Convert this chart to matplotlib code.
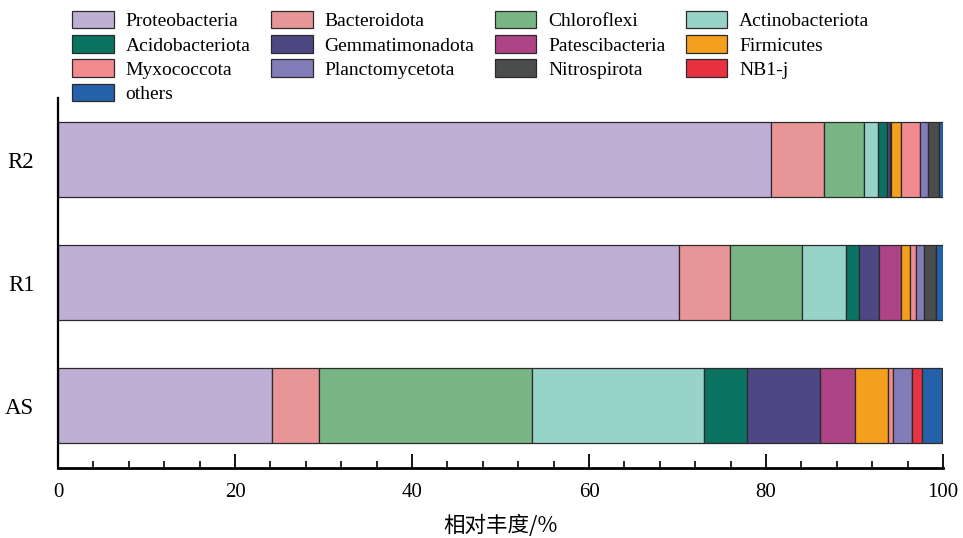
import matplotlib
matplotlib.use("Agg")
import matplotlib.pyplot as plt
from matplotlib.patches import Patch
from matplotlib.ticker import MultipleLocator

samples = ["AS", "R1", "R2"]
phyla = ["Proteobacteria", "Bacteroidota", "Chloroflexi", "Actinobacteriota",
         "Acidobacteriota", "Gemmatimonadota", "Patescibacteria", "Firmicutes",
         "Myxococcota", "Planctomycetota", "Nitrospirota", "NB1-j", "others"]
colors = ["#C0AFD4", "#E79597", "#79B685", "#98D3CA",
          "#0A7261", "#4D4884", "#AE4485", "#F49F1E",
          "#F28B8F", "#827CB8", "#4B4D4D", "#E83240", "#2561AA"]

# relative abundance (%) per phylum, order: AS, R1, R2
abund = {
    "Proteobacteria":   [24.2, 70.2, 80.6],
    "Bacteroidota":     [5.3, 5.7, 6.0],
    "Chloroflexi":      [24.1, 8.2, 4.5],
    "Actinobacteriota": [19.4, 4.9, 1.6],
    "Acidobacteriota":  [4.9, 1.5, 1.0],
    "Gemmatimonadota":  [8.2, 2.3, 0.3],
    "Patescibacteria":  [3.9, 2.5, 0.1],
    "Firmicutes":       [3.8, 1.0, 1.2],
    "Myxococcota":      [0.6, 0.6, 2.1],
    "Planctomycetota":  [2.1, 1.0, 0.9],
    "Nitrospirota":     [0.0, 1.3, 1.3],
    "NB1-j":            [1.1, 0.0, 0.0],
    "others":           [2.3, 0.8, 0.4],
}

plt.rcParams["font.family"] = ["Liberation Serif", "DejaVu Serif"]

fig = plt.figure(figsize=(9.63, 5.38), dpi=100)
ax = fig.add_axes([58 / 963, 1 - 467.5 / 538, 885 / 963, 369.5 / 538])

left = [0.0] * len(samples)
ypos = range(len(samples))
for name, col in zip(phyla, colors):
    vals = abund[name]
    ax.barh(ypos, vals, left=left, height=0.61, color=col,
            edgecolor="#2b2b2b", linewidth=0.9)
    left = [l + v for l, v in zip(left, vals)]

ax.set_xlim(0, 100)
ax.set_ylim(-0.5, 2.5)
ax.set_yticks(list(ypos))
ax.set_yticklabels(samples, fontsize=16.5)
ax.tick_params(axis="y", length=0, pad=17)

ax.xaxis.set_major_locator(MultipleLocator(20))
ax.xaxis.set_minor_locator(MultipleLocator(4))
ax.tick_params(axis="x", which="major", direction="in", length=10, width=1.3,
               labelsize=15, pad=11)
ax.tick_params(axis="x", which="minor", direction="in", length=5, width=1.2)

for s in ["top", "right"]:
    ax.spines[s].set_visible(False)
ax.spines["bottom"].set_linewidth(2.0)
ax.spines["left"].set_linewidth(1.6)

ax.set_xlabel("相对丰度/%", fontsize=15.5, labelpad=9,
              family=["Noto Sans CJK SC", "DejaVu Sans"])

handles = [Patch(facecolor=c, edgecolor="#2b2b2b", linewidth=0.9) for c in colors]
order = [0, 4, 8, 12, 1, 5, 9, 2, 6, 10, 3, 7, 11]
fig.legend([handles[i] for i in order], [phyla[i] for i in order],
           ncol=4, loc="upper left", bbox_to_anchor=(72 / 963, 1 - 11 / 538),
           frameon=False, fontsize=14, borderpad=0, borderaxespad=0,
           handlelength=2.15, handleheight=1.0, handletextpad=0.6,
           labelspacing=0.25, columnspacing=1.05)

fig.savefig("out.png", dpi=100)
